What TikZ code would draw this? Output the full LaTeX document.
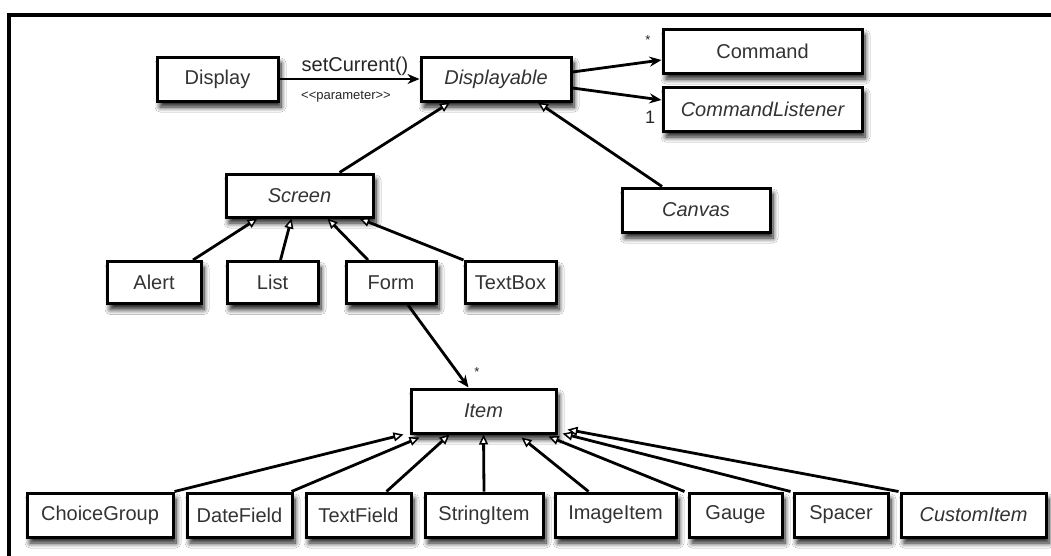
\documentclass[tikz,border=0pt]{standalone}
\usepackage{fontspec}
\setmainfont{Liberation Sans}
\usetikzlibrary{arrows.meta,calc,shadows.blur}
\begin{document}
\begin{tikzpicture}[x=1pt,y=-1pt,
  box/.style={draw, line width=3pt, fill=white, inner sep=0pt, minimum height=44pt,
    text=black!80, font=\fontsize{20}{24}\selectfont,
    blur shadow={shadow xshift=3pt, shadow yshift=-6pt, shadow blur radius=5pt, shadow blur steps=8, shadow opacity=90}},
  abs/.style={box, font=\fontsize{20}{24}\selectfont\itshape},
  gen/.style={line width=2.8pt, -{Triangle[open, length=10pt, width=9pt, line width=1.5pt, fill=white]}},
  assoc/.style={line width=2.8pt, -{Stealth[length=12pt, width=10pt]}},
  lbl/.style={inner sep=0pt, text=black!85},
  small/.style={lbl, font=\fontsize{13}{15}\selectfont}
]
\useasboundingbox (0,0) rectangle (1051,555);
\fill[white] (0,0) rectangle (1051,555);
\draw[line width=3.2pt] (9,575) -- (9,15) -- (1075,15);

% nodes
\node[box, minimum width=121pt] (display) at (217.5,79) {Display};
\node[abs, minimum width=150pt] (displayable) at (496,79) {Displayable};
\node[box, minimum width=199pt] (command) at (762.5,51) {Command};
\node[abs, minimum width=199pt] (listener) at (762.5,109) {CommandListener};
\node[abs, minimum width=147pt, minimum height=43pt] (screen) at (299.5,195.5) {Screen};
\node[abs, minimum width=148pt] (canvas) at (696,210) {Canvas};
\node[box, minimum width=94pt, minimum height=42pt] (alert) at (154,282.5) {Alert};
\node[box, minimum width=91pt, minimum height=42pt] (list) at (272.5,282.5) {List};
\node[box, minimum width=90pt, minimum height=42pt] (form) at (391,282.5) {Form};
\node[box, minimum width=91pt, minimum height=42pt] (textbox) at (510.5,282.5) {TextBox};
\node[abs, minimum width=145pt] (item) at (483.5,411) {Item};
\node[box, minimum width=146pt] (choice) at (100,515) {ChoiceGroup};
\node[box, minimum width=105pt] (date) at (239.5,515) {DateField};
\node[box, minimum width=105pt] (textfield) at (358.5,515) {TextField};
\node[box, minimum width=118pt] (stringitem) at (484,515) {StringItem};
\node[box, minimum width=121pt] (imageitem) at (615.5,515) {ImageItem};
\node[box, minimum width=93pt] (gauge) at (735.5,515) {Gauge};
\node[box, minimum width=94pt] (spacer) at (841,515) {Spacer};
\node[abs, minimum width=145pt] (custom) at (973.5,515) {CustomItem};

% associations
\draw[assoc] (display.east) -- (displayable.west);
\node[lbl, font=\fontsize{20}{24}\selectfont] (setcur) at (355,66) {setCurrent()};
\node[lbl, font=\fontsize{13}{15}\selectfont] (param) at (346,97) {<{}<parameter>{}>};
\draw[assoc] ($(displayable.east)+(0,-7)$) -- ($(command.west)+(0,9)$);
\draw[assoc] ($(displayable.east)+(0,9)$) -- ($(listener.west)+(0,-9)$);
\node[small] (mstar) at (648,40) {*};
\node[lbl, font=\fontsize{18}{20}\selectfont] (mone) at (650,117) {1};
\draw[assoc] ($(form.south)+(17,0)$) -- ($(item.north)+(-15,0)$);
\node[small] (istar) at (477,372) {*};

% generalizations
\draw[gen] ($(screen.north)+(40,0)$) -- ($(displayable.south)+(-46,0)$);
\draw[gen] ($(canvas.north)+(-34,0)$) -- ($(displayable.south)+(42,0)$);
\draw[gen] ($(alert.north)+(39,0)$) -- ($(screen.south)+(-42,0)$);
\draw[gen] ($(list.north)+(8,0)$) -- ($(screen.south)+(-8,0)$);
\draw[gen] ($(form.north)+(-23,0)$) -- ($(screen.south)+(28,0)$);
\draw[gen] ($(textbox.north)+(-47,0)$) -- ($(screen.south)+(60,0)$);

\draw[gen] (choice.north east) -- ($(item.south west)+(-6,0)$);
\draw[gen] ($(date.north east)+(-2,0)$) -- ($(item.south west)+(10,3)$);
\draw[gen] ($(textfield.north)+(28,0)$) -- ($(item.south west)+(40,0)$);
\draw[gen] (stringitem.north) -- (item.south);
\draw[gen] ($(imageitem.north)+(-27,0)$) -- ($(item.south)+(38,3)$);
\draw[gen] ($(gauge.north west)+(-3,0)$) -- ($(item.south east)+(-9,2)$);
\draw[gen] ($(spacer.north west)+(-2,0)$) -- ($(item.south east)+(5,-1)$);
\draw[gen] ($(custom.north west)+(-1,0)$) -- ($(item.south east)+(10,-5)$);
\end{tikzpicture}
\end{document}
